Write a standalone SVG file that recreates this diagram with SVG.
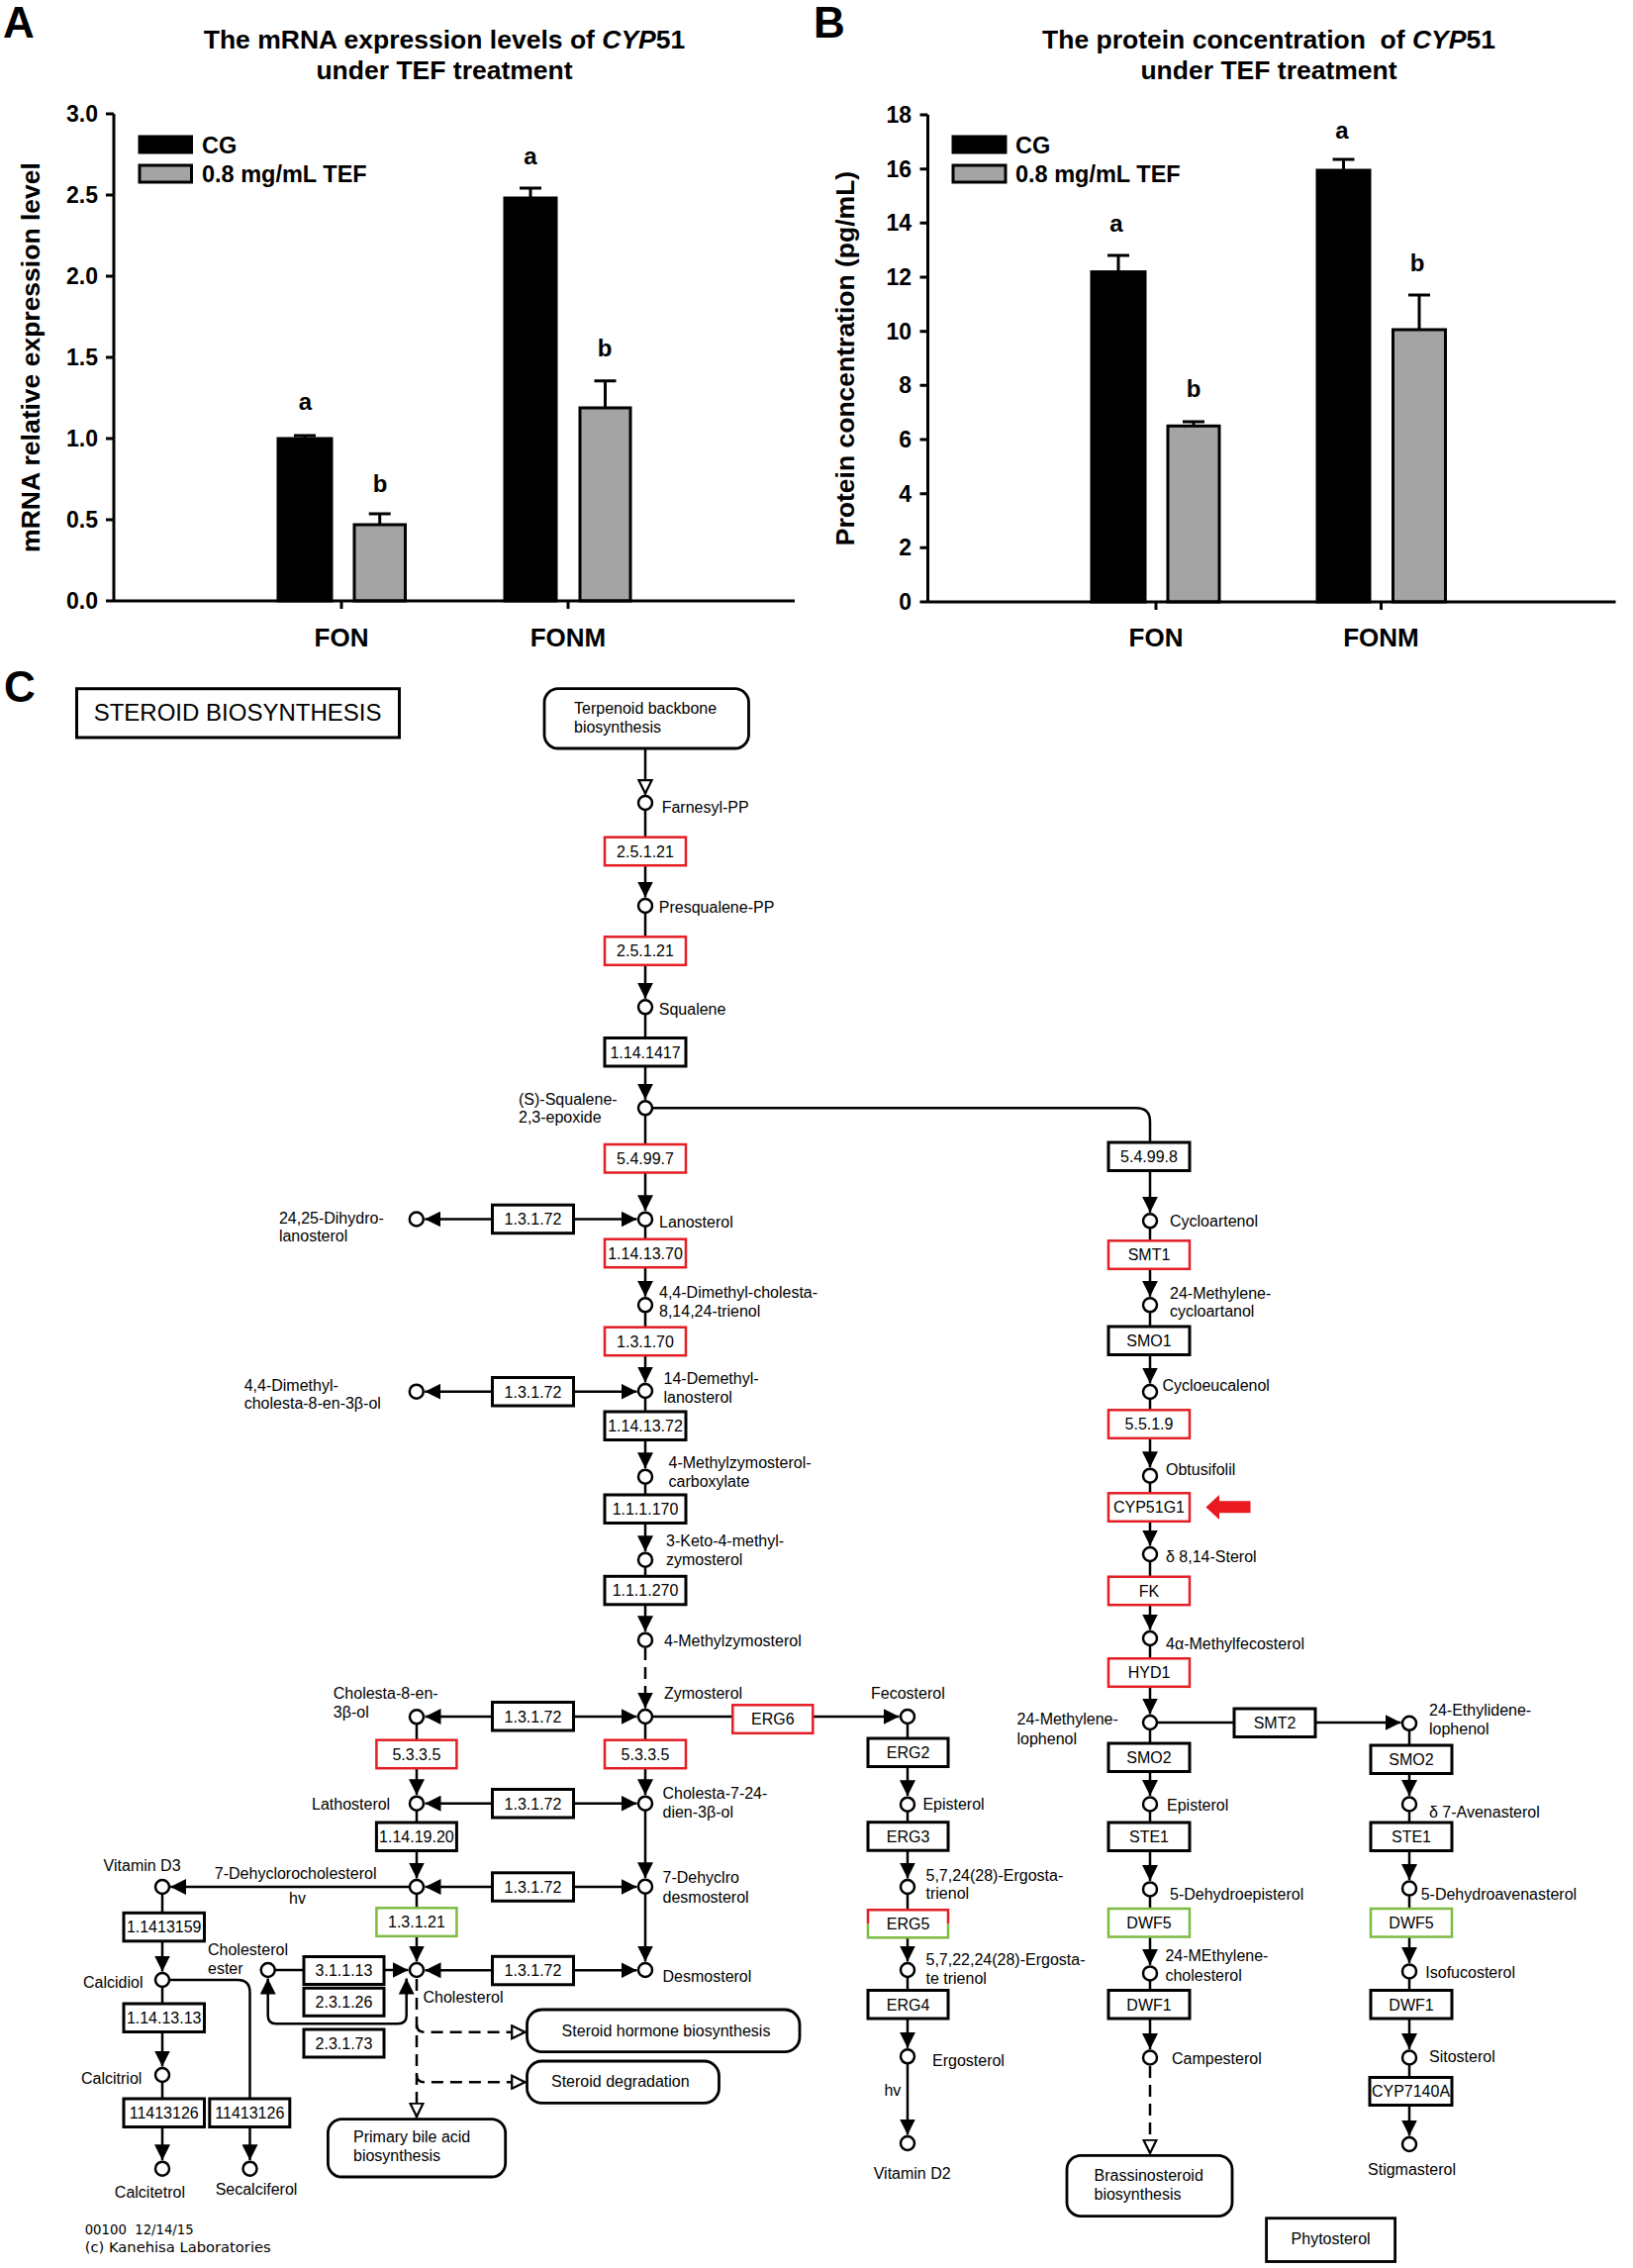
<svg xmlns="http://www.w3.org/2000/svg" width="1650" height="2291" viewBox="0 0 1650 2291">
<defs>
<style>
.t{font-family:"Liberation Sans",Arial,sans-serif;font-size:16px;fill:#000}
.tc{text-anchor:middle}
.ct{font-family:"Liberation Sans",Arial,sans-serif;font-weight:bold;fill:#000}
.ec{fill:#fff;stroke:#000;stroke-width:3}
.ecr{fill:#fff;stroke:#e41e25;stroke-width:2.5}
.ecg{fill:#fff;stroke:#7dbb42;stroke-width:2.5}
.cp{fill:#fff;stroke:#000;stroke-width:2.5}
.mp{fill:#fff;stroke:#000;stroke-width:2.8}
.c{fill:none;stroke:#000;stroke-width:2.5}
.d{stroke-dasharray:12 7}
.a{marker-end:url(#ah)}
.o{marker-end:url(#oh)}
.ax{stroke:#000;stroke-width:3;fill:none}
.bk{fill:#000;stroke:#000;stroke-width:3}
.gr{fill:#a4a4a4;stroke:#000;stroke-width:3}
</style>
<marker id="ah" viewBox="0 0 16 16" refX="16" refY="8" markerWidth="16" markerHeight="16" markerUnits="userSpaceOnUse" orient="auto"><path d="M0,0 L16,8 L0,16 z" fill="#000"/></marker>
<marker id="oh" viewBox="0 0 16 16" refX="15.5" refY="8" markerWidth="16" markerHeight="16" markerUnits="userSpaceOnUse" orient="auto"><path d="M1.2,1.5 L14.5,8 L1.2,14.5 z" fill="#fff" stroke="#000" stroke-width="2.2"/></marker>
</defs>
<rect width="1650" height="2291" fill="#fff"/>

<!-- PANEL A -->
<g id="panel-A">
<text class="ct" x="3" y="38" font-size="44">A</text>
<text class="ct" x="449" y="49" font-size="26.5" text-anchor="middle">The mRNA expression levels of <tspan font-style="italic">CYP</tspan>51</text>
<text class="ct" x="449" y="80" font-size="26.5" text-anchor="middle">under TEF treatment</text>
<text class="ct" transform="translate(40,361) rotate(-90)" font-size="26.5" text-anchor="middle">mRNA relative expression level</text>
<g id="A-bars">
<rect class="bk" x="281" y="443" width="54" height="164"/>
<rect class="gr" x="358" y="530" width="51.5" height="77"/>
<rect class="bk" x="510" y="200" width="52" height="407"/>
<rect class="gr" x="586" y="412" width="51" height="195"/>
<path class="ax" d="M308 443 V440 M297 440 H319 M383.7 530 V519 M372.7 519 H394.7 M536 200 V190 M525 190 H547 M611.5 412 V384.7 M600.5 384.7 H622.5"/>
</g>
<g id="A-axes">
<path class="ax" d="M115 115 V607 H803 M107 607 H115 M107 525 H115 M107 443 H115 M107 361 H115 M107 279 H115 M107 197 H115 M107 115 H115 M345 607 V615 M574 607 V615"/>
<g class="ct" font-size="23" text-anchor="end">
<text x="99" y="615">0.0</text><text x="99" y="533">0.5</text><text x="99" y="451">1.0</text><text x="99" y="369">1.5</text><text x="99" y="287">2.0</text><text x="99" y="205">2.5</text><text x="99" y="123">3.0</text>
</g>
<text class="ct" x="345" y="653" font-size="26" text-anchor="middle">FON</text>
<text class="ct" x="574" y="653" font-size="26" text-anchor="middle">FONM</text>
</g>
<g class="ct" font-size="24" text-anchor="middle">
<text x="308.5" y="414">a</text><text x="384" y="497">b</text><text x="536" y="166">a</text><text x="611" y="360">b</text>
</g>
<g id="A-legend">
<rect class="bk" x="141" y="138" width="52.5" height="16"/>
<rect class="gr" x="141" y="167" width="52.5" height="17"/>
<text class="ct" x="204" y="155" font-size="23.5">CG</text>
<text class="ct" x="204" y="184" font-size="23.5">0.8 mg/mL TEF</text>
</g>
</g>

<!-- PANEL B -->
<g id="panel-B">
<text class="ct" x="822" y="38" font-size="44">B</text>
<text class="ct" x="1282" y="49" font-size="26.5" text-anchor="middle" xml:space="preserve">The protein concentration  of <tspan font-style="italic">CYP</tspan>51</text>
<text class="ct" x="1282" y="80" font-size="26.5" text-anchor="middle">under TEF treatment</text>
<text class="ct" transform="translate(863,362) rotate(-90)" font-size="26.5" text-anchor="middle">Protein concentration (pg/mL)</text>
<g id="B-bars">
<rect class="bk" x="1103" y="274.6" width="54" height="333.4"/>
<rect class="gr" x="1180" y="430.3" width="52" height="177.7"/>
<rect class="bk" x="1331" y="172" width="53" height="436"/>
<rect class="gr" x="1407.5" y="333" width="53" height="275"/>
<path class="ax" d="M1130 274.6 V258 M1119 258 H1141 M1206 430.3 V426 M1195 426 H1217 M1357.5 172 V161 M1346.5 161 H1368.5 M1434 333 V298 M1423 298 H1445"/>
</g>
<g id="B-axes">
<path class="ax" d="M937.5 116 V608 H1632.5 M929.5 608 H937.5 M929.5 553.3 H937.5 M929.5 498.7 H937.5 M929.5 444 H937.5 M929.5 389.3 H937.5 M929.5 334.7 H937.5 M929.5 280 H937.5 M929.5 225.3 H937.5 M929.5 170.7 H937.5 M929.5 116 H937.5 M1168 608 V616 M1395.5 608 V616"/>
<g class="ct" font-size="23" text-anchor="end">
<text x="921" y="616">0</text><text x="921" y="561.3">2</text><text x="921" y="506.7">4</text><text x="921" y="452">6</text><text x="921" y="397.3">8</text><text x="921" y="342.7">10</text><text x="921" y="288">12</text><text x="921" y="233.3">14</text><text x="921" y="178.7">16</text><text x="921" y="124">18</text>
</g>
<text class="ct" x="1168" y="653" font-size="26" text-anchor="middle">FON</text>
<text class="ct" x="1395.5" y="653" font-size="26" text-anchor="middle">FONM</text>
</g>
<g class="ct" font-size="24" text-anchor="middle">
<text x="1128" y="234">a</text><text x="1206" y="401">b</text><text x="1356" y="140">a</text><text x="1432" y="274">b</text>
</g>
<g id="B-legend">
<rect class="bk" x="963" y="138" width="53" height="16"/>
<rect class="gr" x="963" y="167" width="53" height="17"/>
<text class="ct" x="1026" y="155" font-size="23.5">CG</text>
<text class="ct" x="1026" y="184" font-size="23.5">0.8 mg/mL TEF</text>
</g>
</g>

<!-- PANEL C -->
<text class="ct" x="4" y="709" font-size="44">C</text>

<g id="connectors">
<!-- main column x=652 -->
<path class="c o" d="M652 756 V802.5"/>
<path class="c" d="M652 811 V846"/>
<path class="c a" d="M652 874 V906.5"/>
<path class="c" d="M652 915 V946"/>
<path class="c a" d="M652 975 V1008.8"/>
<path class="c" d="M652 1017 V1048"/>
<path class="c a" d="M652 1077 V1110.8"/>
<path class="c" d="M652 1119 V1156"/>
<path class="c a" d="M652 1184 V1223.2"/>
<path class="c" d="M652 1232 V1252"/>
<path class="c a" d="M652 1280 V1309.8"/>
<path class="c" d="M652 1318 V1341"/>
<path class="c a" d="M652 1369 V1396.5"/>
<path class="c" d="M652 1405 V1426"/>
<path class="c a" d="M652 1454 V1483.2"/>
<path class="c" d="M652 1492 V1510"/>
<path class="c a" d="M652 1538 V1567.2"/>
<path class="c" d="M652 1576 V1592"/>
<path class="c a" d="M652 1620 V1648.2"/>
<path class="c d a" d="M652 1665 V1725.5"/>
<path class="c" d="M652 1734 V1758"/>
<path class="c a" d="M652 1786 V1813.2"/>
<path class="c a" d="M652 1822 V1897.2"/>
<path class="c a" d="M652 1906 V1981.5"/>
<!-- epoxide branch to right column -->
<path class="c" d="M652 1119.3 H1148 Q1162 1119.3 1162 1133 V1154"/>
<!-- right column x=1162 -->
<path class="c a" d="M1162 1182.5 V1224.8"/>
<path class="c" d="M1162 1233 V1254"/>
<path class="c a" d="M1162 1281.5 V1309.8"/>
<path class="c" d="M1162 1318 V1340"/>
<path class="c a" d="M1162 1368 V1397.5"/>
<path class="c" d="M1162 1406 V1424"/>
<path class="c a" d="M1162 1452.5 V1482.2"/>
<path class="c" d="M1162 1491 V1508"/>
<path class="c a" d="M1162 1536.5 V1561.5"/>
<path class="c" d="M1162 1570 V1593"/>
<path class="c a" d="M1162 1621 V1646.5"/>
<path class="c" d="M1162 1655 V1675"/>
<path class="c a" d="M1162 1704 V1731.5"/>
<path class="c" d="M1162 1740 V1761"/>
<path class="c a" d="M1162 1789.5 V1814"/>
<path class="c" d="M1162 1822.5 V1841"/>
<path class="c a" d="M1162 1869.5 V1899.9"/>
<path class="c" d="M1162 1908 V1928"/>
<path class="c a" d="M1162 1956.5 V1984.9"/>
<path class="c" d="M1162 1993 V2010.5"/>
<path class="c a" d="M1162 2039 V2070"/>
<path class="c d o" d="M1162 2087 V2176"/>
<path class="c a" d="M1162 1740 H1415.5"/>
<!-- far right column x=1424 -->
<path class="c" d="M1424 1741 V1763"/>
<path class="c a" d="M1424 1791.5 V1814"/>
<path class="c" d="M1424 1822.5 V1841"/>
<path class="c a" d="M1424 1869.5 V1899.1"/>
<path class="c" d="M1424 1907.6 V1928"/>
<path class="c a" d="M1424 1956.5 V1982.9"/>
<path class="c" d="M1424 1991.4 V2010.5"/>
<path class="c a" d="M1424 2039 V2070"/>
<path class="c" d="M1424 2078.5 V2098.5"/>
<path class="c a" d="M1424 2127 V2157.5"/>
<!-- ERG column x=917 -->
<path class="c a" d="M652 1734 H908.5"/>
<path class="c" d="M917 1734 V1756"/>
<path class="c a" d="M917 1784.5 V1814.2"/>
<path class="c" d="M917 1823 V1841"/>
<path class="c a" d="M917 1869 V1897.5"/>
<path class="c" d="M917 1906 V1929.3"/>
<path class="c a" d="M917 1957.3 V1981.5"/>
<path class="c" d="M917 1990 V2010.5"/>
<path class="c a" d="M917 2039 V2068.8"/>
<path class="c a" d="M917 2077.3 V2156.5"/>
<!-- 1.3.1.72 rows -->
<path class="c a" d="M538 1231.5 H429.3"/><path class="c a" d="M538 1231.5 H643.5"/>
<path class="c a" d="M538 1405.7 H429.3"/><path class="c a" d="M538 1405.7 H643.5"/>
<path class="c a" d="M538 1734 H429.5"/><path class="c a" d="M538 1734 H643.5"/>
<path class="c a" d="M538 1821.7 H429.5"/><path class="c a" d="M538 1821.7 H643.5"/>
<path class="c a" d="M538 1906 H429.5"/><path class="c a" d="M538 1906 H643.5"/>
<path class="c a" d="M538 1990.3 H429.5"/><path class="c a" d="M538 1990.3 H643.5"/>
<!-- left-center column x=421 -->
<path class="c" d="M421 1734 V1758"/>
<path class="c a" d="M421 1786.5 V1813.2"/>
<path class="c" d="M421 1822 V1841"/>
<path class="c a" d="M421 1869.5 V1897.5"/>
<path class="c" d="M421 1906 V1927.3"/>
<path class="c a" d="M421 1956 V1981.5"/>
<path class="c d o" d="M421 1999 V2139"/>
<path class="c d o" d="M421 2045 Q421 2052.7 429 2052.7 H531.5"/>
<path class="c d o" d="M421 2096 Q421 2103.3 429 2103.3 H531.5"/>
<!-- vitamin D3 branch -->
<path class="c a" d="M421 1906 H172.1"/>
<path class="c" d="M164 1906 V1932.3"/>
<path class="c a" d="M164 1960.8 V1991.5"/>
<path class="c" d="M164 2000 V2024"/>
<path class="c a" d="M164 2052.5 V2087.5"/>
<path class="c" d="M164 2096 V2120"/>
<path class="c a" d="M164 2148.5 V2182.2"/>
<path class="c" d="M164 2000 H240 Q252.5 2000 252.5 2012.5 V2120"/>
<path class="c a" d="M252.5 2148.5 V2182.2"/>
<!-- cholesterol ester -->
<path class="c" d="M270.7 1990 H307"/>
<path class="c a" d="M388 1990 H412.5"/>
<path class="c a" d="M340 2044.3 H279 Q270.7 2044.3 270.7 2036 V1998.5"/>
<path class="c a" d="M340 2044.3 H402 Q410.7 2044.3 410.7 2036 V1998.5"/>
</g>

<g id="nodes">
<g id="title-box"><rect x="77.5" y="695.7" width="326" height="49.3" fill="#fff" stroke="#000" stroke-width="3"/><text class="t" x="94.7" y="728" style="font-size:24px">STEROID BIOSYNTHESIS</text></g>
<g id="map-terpenoid"><rect class="mp" x="550" y="695.7" width="206.5" height="60.3" rx="14"/><text class="t" x="580" y="720.7">Terpenoid backbone</text><text class="t" x="580" y="740">biosynthesis</text></g>
<g id="map-steroid-hormone"><rect class="mp" x="532.5" y="2030" width="275.5" height="42.7" rx="15"/><text class="t tc" x="673" y="2056.5">Steroid hormone biosynthesis</text></g>
<g id="map-steroid-degradation"><rect class="mp" x="532.5" y="2082" width="194" height="42.3" rx="15"/><text class="t" x="557" y="2108.3">Steroid degradation</text></g>
<g id="map-bile-acid"><rect class="mp" x="331.4" y="2140.7" width="179.3" height="58.3" rx="14"/><text class="t" x="357" y="2164.3">Primary bile acid</text><text class="t" x="357" y="2183.3">biosynthesis</text></g>
<g id="map-brassinosteroid"><rect class="mp" x="1078" y="2177.4" width="167" height="61.3" rx="14"/><text class="t" x="1105.5" y="2202.7">Brassinosteroid</text><text class="t" x="1105.5" y="2222.4">biosynthesis</text></g>
<g id="label-phytosterol"><rect x="1279.6" y="2240.7" width="130" height="43.8" fill="#fff" stroke="#000" stroke-width="2.8"/><text class="t tc" x="1344.6" y="2267.3">Phytosterol</text></g>

<!-- main column enzymes -->
<g id="ec-2.5.1.21-a"><rect class="ecr" x="611" y="845.7" width="82" height="28.5"/><text class="t tc" x="652" y="865.7">2.5.1.21</text></g>
<g id="ec-2.5.1.21-b"><rect class="ecr" x="611" y="946.3" width="82" height="28.5"/><text class="t tc" x="652" y="966.3">2.5.1.21</text></g>
<g id="ec-1.14.1417"><rect class="ec" x="611" y="1048.5" width="82" height="28.5"/><text class="t tc" x="652" y="1068.5">1.14.1417</text></g>
<g id="ec-5.4.99.7"><rect class="ecr" x="611" y="1156" width="82" height="28.5"/><text class="t tc" x="652" y="1176">5.4.99.7</text></g>
<g id="ec-1.14.13.70"><rect class="ecr" x="611" y="1251.7" width="82" height="28.5"/><text class="t tc" x="652" y="1271.7">1.14.13.70</text></g>
<g id="ec-1.3.1.70"><rect class="ecr" x="611" y="1340.7" width="82" height="28.5"/><text class="t tc" x="652" y="1360.7">1.3.1.70</text></g>
<g id="ec-1.14.13.72"><rect class="ec" x="611" y="1426" width="82" height="28.5"/><text class="t tc" x="652" y="1446">1.14.13.72</text></g>
<g id="ec-1.1.1.170"><rect class="ec" x="611" y="1510" width="82" height="28.5"/><text class="t tc" x="652" y="1530">1.1.1.170</text></g>
<g id="ec-1.1.1.270"><rect class="ec" x="611" y="1592.3" width="82" height="28.5"/><text class="t tc" x="652" y="1612.3">1.1.1.270</text></g>
<g id="ec-5.3.3.5-b"><rect class="ecr" x="611" y="1757.7" width="82" height="28.5"/><text class="t tc" x="652" y="1777.7">5.3.3.5</text></g>
<g id="ec-ERG6"><rect class="ecr" x="740.3" y="1722.3" width="81" height="28.5"/><text class="t tc" x="780.8" y="1742.3">ERG6</text></g>

<!-- 1.3.1.72 boxes -->
<g id="ec-1.3.1.72-a"><rect class="ec" x="497.5" y="1217.2" width="82" height="28.5"/><text class="t tc" x="538.5" y="1237.2">1.3.1.72</text></g>
<g id="ec-1.3.1.72-b"><rect class="ec" x="497.5" y="1391.5" width="82" height="28.5"/><text class="t tc" x="538.5" y="1411.5">1.3.1.72</text></g>
<g id="ec-1.3.1.72-c"><rect class="ec" x="497.5" y="1719.5" width="82" height="28.5"/><text class="t tc" x="538.5" y="1739.5">1.3.1.72</text></g>
<g id="ec-1.3.1.72-d"><rect class="ec" x="497.5" y="1807.5" width="82" height="28.5"/><text class="t tc" x="538.5" y="1827.5">1.3.1.72</text></g>
<g id="ec-1.3.1.72-e"><rect class="ec" x="497.5" y="1891.8" width="82" height="28.5"/><text class="t tc" x="538.5" y="1911.8">1.3.1.72</text></g>
<g id="ec-1.3.1.72-f"><rect class="ec" x="497.5" y="1976.3" width="82" height="28.5"/><text class="t tc" x="538.5" y="1996.3">1.3.1.72</text></g>

<!-- left-center column -->
<g id="ec-5.3.3.5-a"><rect class="ecr" x="380.4" y="1757.7" width="81" height="28.5"/><text class="t tc" x="420.9" y="1777.7">5.3.3.5</text></g>
<g id="ec-1.14.19.20"><rect class="ec" x="380.4" y="1841" width="81" height="28.5"/><text class="t tc" x="420.9" y="1861">1.14.19.20</text></g>
<g id="ec-1.3.1.21"><rect class="ecg" x="380.4" y="1927.3" width="81" height="28.5"/><text class="t tc" x="420.9" y="1947.3">1.3.1.21</text></g>
<g id="ec-3.1.1.13"><rect class="ec" x="307" y="1976.5" width="81" height="28"/><text class="t tc" x="347.5" y="1996.2">3.1.1.13</text></g>
<g id="ec-2.3.1.26"><rect class="ec" x="307" y="2008.3" width="81" height="28"/><text class="t tc" x="347.5" y="2028">2.3.1.26</text></g>
<g id="ec-2.3.1.73"><rect class="ec" x="307" y="2050" width="81" height="28"/><text class="t tc" x="347.5" y="2069.7">2.3.1.73</text></g>

<!-- vitamin D3 column -->
<g id="ec-1.1413159"><rect class="ec" x="125" y="1932.3" width="81.5" height="28.5"/><text class="t tc" x="165.7" y="1952.3">1.1413159</text></g>
<g id="ec-1.14.13.13"><rect class="ec" x="125" y="2024" width="81.5" height="28.5"/><text class="t tc" x="165.7" y="2044">1.14.13.13</text></g>
<g id="ec-11413126-a"><rect class="ec" x="125" y="2120" width="81.5" height="28.5"/><text class="t tc" x="165.7" y="2140">11413126</text></g>
<g id="ec-11413126-b"><rect class="ec" x="211.8" y="2120" width="81" height="28.5"/><text class="t tc" x="252.3" y="2140">11413126</text></g>

<!-- ERG column -->
<g id="ec-ERG2"><rect class="ec" x="877" y="1756" width="81" height="28.5"/><text class="t tc" x="917.5" y="1776">ERG2</text></g>
<g id="ec-ERG3"><rect class="ec" x="877" y="1840.7" width="81" height="28.5"/><text class="t tc" x="917.5" y="1860.7">ERG3</text></g>
<g id="ec-ERG5"><rect x="877" y="1929.3" width="81" height="28" fill="#fff"/><path d="M877 1943.3 V1929.3 H958 V1943.3" fill="none" stroke="#e41e25" stroke-width="2.5"/><path d="M877 1943.3 V1957.3 H958 V1943.3" fill="none" stroke="#7dbb42" stroke-width="2.5"/><text class="t tc" x="917.5" y="1949">ERG5</text></g>
<g id="ec-ERG4"><rect class="ec" x="877" y="2010.5" width="81" height="28.5"/><text class="t tc" x="917.5" y="2030.5">ERG4</text></g>

<!-- right column -->
<g id="ec-5.4.99.8"><rect class="ec" x="1120" y="1154" width="82" height="28.5"/><text class="t tc" x="1161" y="1174">5.4.99.8</text></g>
<g id="ec-SMT1"><rect class="ecr" x="1120" y="1253.3" width="82" height="28.5"/><text class="t tc" x="1161" y="1273.3">SMT1</text></g>
<g id="ec-SMO1"><rect class="ec" x="1120" y="1340" width="82" height="28.5"/><text class="t tc" x="1161" y="1360">SMO1</text></g>
<g id="ec-5.5.1.9"><rect class="ecr" x="1120" y="1424.3" width="82" height="28.5"/><text class="t tc" x="1161" y="1444.3">5.5.1.9</text></g>
<g id="ec-CYP51G1"><rect class="ecr" x="1120" y="1508.3" width="82" height="28.5"/><text class="t tc" x="1161" y="1528.3">CYP51G1</text></g>
<g id="ec-FK"><rect class="ecr" x="1120" y="1592.7" width="82" height="28.5"/><text class="t tc" x="1161" y="1612.7">FK</text></g>
<g id="ec-HYD1"><rect class="ecr" x="1120" y="1675.3" width="82" height="28.5"/><text class="t tc" x="1161" y="1695.3">HYD1</text></g>
<g id="ec-SMO2-a"><rect class="ec" x="1120" y="1761" width="82" height="28.5"/><text class="t tc" x="1161" y="1781">SMO2</text></g>
<g id="ec-STE1-a"><rect class="ec" x="1120" y="1841" width="82" height="28.5"/><text class="t tc" x="1161" y="1861">STE1</text></g>
<g id="ec-DWF5-a"><rect class="ecg" x="1120" y="1928" width="82" height="28.5"/><text class="t tc" x="1161" y="1948">DWF5</text></g>
<g id="ec-DWF1-a"><rect class="ec" x="1120" y="2010.5" width="82" height="28.5"/><text class="t tc" x="1161" y="2030.5">DWF1</text></g>
<g id="ec-SMT2"><rect class="ec" x="1247" y="1726" width="82" height="28.5"/><text class="t tc" x="1288" y="1746">SMT2</text></g>

<!-- far right column -->
<g id="ec-SMO2-b"><rect class="ec" x="1385" y="1763" width="82" height="28.5"/><text class="t tc" x="1426" y="1783">SMO2</text></g>
<g id="ec-STE1-b"><rect class="ec" x="1385" y="1841" width="82" height="28.5"/><text class="t tc" x="1426" y="1861">STE1</text></g>
<g id="ec-DWF5-b"><rect class="ecg" x="1385" y="1928" width="82" height="28.5"/><text class="t tc" x="1426" y="1948">DWF5</text></g>
<g id="ec-DWF1-b"><rect class="ec" x="1385" y="2010.5" width="82" height="28.5"/><text class="t tc" x="1426" y="2030.5">DWF1</text></g>
<g id="ec-CYP7140A"><rect class="ec" x="1384" y="2098.5" width="83" height="28"/><text class="t tc" x="1425.5" y="2118.3">CYP7140A</text></g>

<g id="red-arrow"><path d="M1218.4 1522.5 L1232 1510 V1516.3 H1263.5 V1528.3 H1232 V1535 Z" fill="#e8191f"/></g>

<!-- compounds main column -->
<g id="cpd-farnesyl-pp"><circle class="cp" cx="652" cy="811" r="7"/><text class="t" x="668.7" y="820.7">Farnesyl-PP</text></g>
<g id="cpd-presqualene-pp"><circle class="cp" cx="652" cy="915" r="7"/><text class="t" x="665.8" y="921.7">Presqualene-PP</text></g>
<g id="cpd-squalene"><circle class="cp" cx="652" cy="1017.3" r="7"/><text class="t" x="665.8" y="1025">Squalene</text></g>
<g id="cpd-squalene-epoxide"><circle class="cp" cx="652" cy="1119.3" r="7"/><text class="t" x="524" y="1115.7">(S)-Squalene-</text><text class="t" x="524" y="1134.3">2,3-epoxide</text></g>
<g id="cpd-lanosterol"><circle class="cp" cx="652" cy="1231.7" r="7"/><text class="t" x="666" y="1240">Lanosterol</text></g>
<g id="cpd-dimethyl-trienol"><circle class="cp" cx="652" cy="1318.3" r="7"/><text class="t" x="666" y="1311">4,4-Dimethyl-cholesta-</text><text class="t" x="666" y="1330">8,14,24-trienol</text></g>
<g id="cpd-14-demethyl-lanosterol"><circle class="cp" cx="652" cy="1405" r="7"/><text class="t" x="670.5" y="1398">14-Demethyl-</text><text class="t" x="670.5" y="1417.3">lanosterol</text></g>
<g id="cpd-methylzymosterol-carboxylate"><circle class="cp" cx="652" cy="1491.7" r="7"/><text class="t" x="675.5" y="1483.3">4-Methylzymosterol-</text><text class="t" x="675.5" y="1502.3">carboxylate</text></g>
<g id="cpd-keto-methyl-zymosterol"><circle class="cp" cx="652" cy="1575.7" r="7"/><text class="t" x="673" y="1562.3">3-Keto-4-methyl-</text><text class="t" x="673" y="1581">zymosterol</text></g>
<g id="cpd-4-methylzymosterol"><circle class="cp" cx="652" cy="1656.7" r="7"/><text class="t" x="671" y="1662.7">4-Methylzymosterol</text></g>
<g id="cpd-zymosterol"><circle class="cp" cx="652" cy="1734" r="7"/><text class="t" x="671" y="1716">Zymosterol</text></g>
<g id="cpd-cholesta-7-24-dienol"><circle class="cp" cx="652" cy="1821.7" r="7"/><text class="t" x="669.5" y="1816.7">Cholesta-7-24-</text><text class="t" x="669.5" y="1835.7">dien-3β-ol</text></g>
<g id="cpd-7-dehydrodesmosterol"><circle class="cp" cx="652" cy="1905.7" r="7"/><text class="t" x="669.5" y="1902.3">7-Dehyclro</text><text class="t" x="669.5" y="1921.7">desmosterol</text></g>
<g id="cpd-desmosterol"><circle class="cp" cx="652" cy="1990" r="7"/><text class="t" x="669.5" y="2002.3">Desmosterol</text></g>

<!-- side compounds -->
<g id="cpd-dihydrolanosterol"><circle class="cp" cx="420.8" cy="1231.5" r="7"/><text class="t" x="281.9" y="1236">24,25-Dihydro-</text><text class="t" x="281.9" y="1254">lanosterol</text></g>
<g id="cpd-dimethyl-cholesta-8-en-ol"><circle class="cp" cx="420.8" cy="1405.7" r="7"/><text class="t" x="246.7" y="1405">4,4-Dimethyl-</text><text class="t" x="246.7" y="1423">cholesta-8-en-3β-ol</text></g>
<g id="cpd-cholesta-8-en-ol"><circle class="cp" cx="421" cy="1734.3" r="7"/><text class="t" x="336.8" y="1716">Cholesta-8-en-</text><text class="t" x="336.8" y="1735">3β-ol</text></g>
<g id="cpd-lathosterol"><circle class="cp" cx="421" cy="1821.7" r="7"/><text class="t" x="315" y="1828.3">Lathosterol</text></g>
<g id="cpd-7-dehydrocholesterol"><circle class="cp" cx="421" cy="1906" r="7"/><text class="t" x="216.8" y="1898.3">7-Dehyclorocholesterol</text><text class="t" x="292" y="1923.3">hv</text></g>
<g id="cpd-cholesterol"><circle class="cp" cx="421" cy="1990" r="7"/><text class="t" x="427.5" y="2023.3">Cholesterol</text></g>
<g id="cpd-cholesterol-ester"><circle class="cp" cx="270.7" cy="1990" r="7"/><text class="t" x="210" y="1975">Cholesterol</text><text class="t" x="210" y="1994.3">ester</text></g>
<g id="cpd-vitamin-d3"><circle class="cp" cx="164" cy="1906" r="7"/><text class="t" x="104.6" y="1890">Vitamin D3</text></g>
<g id="cpd-calcidiol"><circle class="cp" cx="164" cy="2000" r="7"/><text class="t" x="84" y="2007.7">Calcidiol</text></g>
<g id="cpd-calcitriol"><circle class="cp" cx="164" cy="2096" r="7"/><text class="t" x="82" y="2105">Calcitriol</text></g>
<g id="cpd-calcitetrol"><circle class="cp" cx="164" cy="2190.7" r="7"/><text class="t tc" x="151.4" y="2220">Calcitetrol</text></g>
<g id="cpd-secalciferol"><circle class="cp" cx="252.5" cy="2190.7" r="7"/><text class="t tc" x="259" y="2216.7">Secalciferol</text></g>

<!-- ERG compounds -->
<g id="cpd-fecosterol"><circle class="cp" cx="917" cy="1734" r="7"/><text class="t" x="880" y="1716">Fecosterol</text></g>
<g id="cpd-episterol-a"><circle class="cp" cx="917" cy="1822.7" r="7"/><text class="t" x="932.4" y="1828.3">Episterol</text></g>
<g id="cpd-ergostatrienol"><circle class="cp" cx="917" cy="1906" r="7"/><text class="t" x="935.5" y="1900">5,7,24(28)-Ergosta-</text><text class="t" x="935.5" y="1918.3">trienol</text></g>
<g id="cpd-ergostatetraenol"><circle class="cp" cx="917" cy="1990" r="7"/><text class="t" x="935.5" y="1985">5,7,22,24(28)-Ergosta-</text><text class="t" x="935.5" y="2004">te trienol</text></g>
<g id="cpd-ergosterol"><circle class="cp" cx="917" cy="2077.3" r="7"/><text class="t" x="942" y="2086.7">Ergosterol</text><text class="t" x="893.4" y="2116.7">hv</text></g>
<g id="cpd-vitamin-d2"><circle class="cp" cx="917" cy="2165" r="7"/><text class="t" x="882.7" y="2200.7">Vitamin D2</text></g>

<!-- right column compounds -->
<g id="cpd-cycloartenol"><circle class="cp" cx="1162" cy="1233.3" r="7"/><text class="t" x="1182" y="1239.3">Cycloartenol</text></g>
<g id="cpd-methylenecycloartanol"><circle class="cp" cx="1162" cy="1318.3" r="7"/><text class="t" x="1182" y="1311.7">24-Methylene-</text><text class="t" x="1182" y="1330">cycloartanol</text></g>
<g id="cpd-cycloeucalenol"><circle class="cp" cx="1162" cy="1406" r="7"/><text class="t" x="1174.4" y="1405">Cycloeucalenol</text></g>
<g id="cpd-obtusifolil"><circle class="cp" cx="1162" cy="1490.7" r="7"/><text class="t" x="1178" y="1490">Obtusifolil</text></g>
<g id="cpd-d814-sterol"><circle class="cp" cx="1162" cy="1570" r="7"/><text class="t" x="1178" y="1577.7">δ 8,14-Sterol</text></g>
<g id="cpd-methylfecosterol"><circle class="cp" cx="1162" cy="1655" r="7"/><text class="t" x="1178" y="1665.5">4α-Methylfecosterol</text></g>
<g id="cpd-methylenelophenol"><circle class="cp" cx="1162" cy="1740" r="7"/><text class="t" x="1027.5" y="1742">24-Methylene-</text><text class="t" x="1027.5" y="1761.6">lophenol</text></g>
<g id="cpd-episterol-b"><circle class="cp" cx="1162" cy="1822.5" r="7"/><text class="t" x="1179" y="1828.7">Episterol</text></g>
<g id="cpd-dehydroepisterol"><circle class="cp" cx="1162" cy="1908.4" r="7"/><text class="t" x="1182" y="1918.6">5-Dehydroepisterol</text></g>
<g id="cpd-methylenecholesterol"><circle class="cp" cx="1162" cy="1993.4" r="7"/><text class="t" x="1177.4" y="1981">24-MEthylene-</text><text class="t" x="1177.4" y="2000.8">cholesterol</text></g>
<g id="cpd-campesterol"><circle class="cp" cx="1162" cy="2078.5" r="7"/><text class="t" x="1184" y="2085.4">Campesterol</text></g>

<!-- far right compounds -->
<g id="cpd-ethylidenelophenol"><circle class="cp" cx="1424" cy="1740.8" r="7"/><text class="t" x="1444" y="1733">24-Ethylidene-</text><text class="t" x="1444" y="1752.2">lophenol</text></g>
<g id="cpd-avenasterol"><circle class="cp" cx="1424" cy="1822.5" r="7"/><text class="t" x="1444" y="1836">δ 7-Avenasterol</text></g>
<g id="cpd-dehydroavenasterol"><circle class="cp" cx="1424" cy="1907.6" r="7"/><text class="t" x="1435.7" y="1918.6">5-Dehydroavenasterol</text></g>
<g id="cpd-isofucosterol"><circle class="cp" cx="1424" cy="1991.4" r="7"/><text class="t" x="1440.3" y="1998.3">Isofucosterol</text></g>
<g id="cpd-sitosterol"><circle class="cp" cx="1424" cy="2078.5" r="7"/><text class="t" x="1444" y="2083.4">Sitosterol</text></g>
<g id="cpd-stigmasterol"><circle class="cp" cx="1424" cy="2166" r="7"/><text class="t tc" x="1426.5" y="2197">Stigmasterol</text></g>
</g>

<g id="footer">
<text x="85.7" y="2256.7" font-family="'DejaVu Sans',sans-serif" font-size="14" xml:space="preserve" textLength="110" lengthAdjust="spacingAndGlyphs">00100  12/14/15</text>
<text x="85.7" y="2275" font-family="'DejaVu Sans',sans-serif" font-size="14" textLength="188" lengthAdjust="spacingAndGlyphs">(c) Kanehisa Laboratories</text>
</g>
</svg>
